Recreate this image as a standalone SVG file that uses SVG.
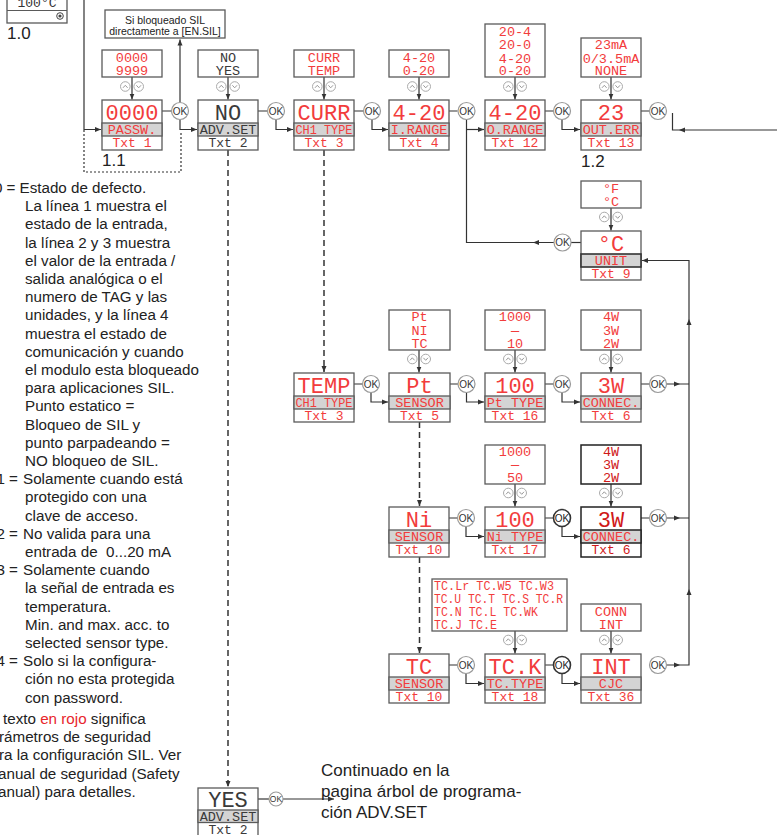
<svg xmlns="http://www.w3.org/2000/svg" xmlns:xlink="http://www.w3.org/1999/xlink" width="777" height="835" viewBox="0 0 777 835">
<style>
.box{fill:#fff;stroke:#5a5a5a;stroke-width:1.3}
.boxd{fill:#fff;stroke:#222;stroke-width:1.5}
.gry{fill:#d4d4d4;stroke:#5a5a5a;stroke-width:1.3}
.val{font-family:"Liberation Mono","DejaVu Sans Mono",monospace;font-size:22px;text-anchor:middle}
.lab{font-family:"Liberation Mono","DejaVu Sans Mono",monospace;font-size:13.5px;text-anchor:middle}
.txt{font-family:"Liberation Mono","DejaVu Sans Mono",monospace;font-size:13px;text-anchor:middle}
.opt{font-family:"Liberation Mono","DejaVu Sans Mono",monospace;font-size:13.5px;text-anchor:middle}
.red{fill:#f23c3c}
.dred{fill:#d01818}
.blk{fill:#3a3a3a}
.ln{fill:none;stroke:#333;stroke-width:1.2}
.dash{fill:none;stroke:#333;stroke-width:1.5;stroke-dasharray:6,4}
.dot{fill:none;stroke:#333;stroke-width:1.2;stroke-dasharray:2,2}
.body{font-family:"Liberation Sans",Arial,sans-serif;font-size:15.2px;fill:#222}
.note{font-family:"Liberation Sans",Arial,sans-serif;font-size:10.5px;fill:#222;text-anchor:middle}
.big{font-family:"Liberation Sans",Arial,sans-serif;font-size:17px;fill:#222}
</style>
<defs>
<marker id="a" markerWidth="7" markerHeight="6" refX="6" refY="3" orient="auto" markerUnits="userSpaceOnUse"><path d="M0,0.5 L6,3 L0,5.5z" fill="#333"/></marker>
<path id="mh" d="M0,0 L-6,-2.5 L-6,2.5z" fill="#333"/>
<g id="ok"><circle r="8.5" fill="#fff" stroke="#9a9a9a" stroke-width="1.2"/><text y="3.6" font-family="Liberation Sans,Arial,sans-serif" font-size="10" text-anchor="middle" fill="#333">OK</text></g>
<g id="okb"><circle r="8.5" fill="#fff" stroke="#333" stroke-width="1.6"/><text y="3.6" font-family="Liberation Sans,Arial,sans-serif" font-size="10" text-anchor="middle" fill="#222">OK</text></g>
<g id="oks"><circle r="7" fill="#fff" stroke="#9a9a9a" stroke-width="1.1"/><text y="3" font-family="Liberation Sans,Arial,sans-serif" font-size="8.5" text-anchor="middle" fill="#333">OK</text></g>
<g id="ud"><circle cx="-6.7" r="4.8" fill="#fff" stroke="#aaa" stroke-width="1"/><path d="M-9,1.3 l2.3,-2.5 l2.3,2.5" fill="none" stroke="#999" stroke-width="1"/><circle cx="6.7" r="4.8" fill="#fff" stroke="#aaa" stroke-width="1"/><path d="M4.4,-1.2 l2.3,2.5 l2.3,-2.5" fill="none" stroke="#999" stroke-width="1"/></g>
</defs>
<rect width="777" height="835" fill="#fff"/>

<!-- top-left partial display 1.0 -->
<g id="display-1-0">
<rect class="box" x="7" y="-30" width="60" height="53"/>
<line x1="7" y1="10.5" x2="67" y2="10.5" stroke="#5a5a5a" stroke-width="1.2"/>
<text x="37" y="6.5" font-family="Liberation Mono,monospace" font-size="13" text-anchor="middle" fill="#333">100°C</text>
<circle cx="60" cy="16" r="3.3" fill="none" stroke="#444" stroke-width="1"/><circle cx="60" cy="16" r="1.6" fill="#444"/>
<text class="big" x="7" y="39">1.0</text>
</g>

<g id="si-note">
<rect class="box" x="105" y="10" width="120" height="28"/>
<text class="note" x="165" y="23.5">Si bloqueado SIL</text>
<text class="note" x="165" y="34.5">directamente a [EN.SIL]</text>
</g>

<!-- connectors -->
<g id="connectors">
<path class="ln" d="M84,0 V129.5 H101" marker-end="url(#a)"/>
<path class="dot" d="M84,130 V172 H181 V131"/>
<path class="ln" d="M162,111 H171.5 M258,111 H267.5 M354,111 H363.5 M449,111 H457.5 M545,111 H553.5 M641,111 H649.5"/>
<path class="ln" d="M180,102.5 V39.5" marker-end="url(#a)"/>
<path class="ln" d="M180,119.5 V129.5 H197" marker-end="url(#a)"/>
<path class="ln" d="M276,119.5 V129.5 H293" marker-end="url(#a)"/>
<path class="ln" d="M372,119.5 V129.5 H388" marker-end="url(#a)"/>
<path class="ln" d="M466.5,119.5 V242.5 H554"/>
<path class="ln" d="M466.5,129.5 H484" marker-end="url(#a)"/>
<path class="ln" d="M562,119.5 V129.5 H580" marker-end="url(#a)"/>
<path class="ln" d="M672.5,113 V130 H777"/>
<use xlink:href="#mh" transform="translate(673,130) rotate(180) translate(-6,0)"/>
<use xlink:href="#mh" transform="translate(533,242.5) rotate(180)"/>
<path class="ln" d="M581,242.5 H571"/>
<!-- option arrows -->
<path class="ln" d="M132,77 V99.5" marker-end="url(#a)"/>
<path class="ln" d="M228,77 V99.5" marker-end="url(#a)"/>
<path class="ln" d="M324,77 V99.5" marker-end="url(#a)"/>
<path class="ln" d="M419,77 V99.5" marker-end="url(#a)"/>
<path class="ln" d="M515,77 V99.5" marker-end="url(#a)"/>
<path class="ln" d="M611,77 V99.5" marker-end="url(#a)"/>
<path class="ln" d="M611,208 V230.5" marker-end="url(#a)"/>
<path class="ln" d="M419,350 V372.5" marker-end="url(#a)"/>
<path class="ln" d="M515,350 V372.5" marker-end="url(#a)"/>
<path class="ln" d="M611,350 V372.5" marker-end="url(#a)"/>
<path class="ln" d="M515,484 V506.5" marker-end="url(#a)"/>
<path class="ln" d="M611,484 V506.5" marker-end="url(#a)"/>
<path class="ln" d="M515,631 V653.5" marker-end="url(#a)"/>
<path class="ln" d="M611,631 V653.5" marker-end="url(#a)"/>
<!-- dashed -->
<path class="dash" d="M228,150 V787" marker-end="url(#a)"/>
<path class="dash" d="M324,150 V372" marker-end="url(#a)"/>
<path class="dash" d="M419.5,422 V506" marker-end="url(#a)"/>
<path class="dash" d="M419.5,557 V653" marker-end="url(#a)"/>
<!-- temp row -->
<path class="ln" d="M354,384 H362.5 M450,384 H458 M545,384 H553.5 M641,384 H649.5 M666.5,384 H689"/>
<path class="ln" d="M371,392.5 V402 H388" marker-end="url(#a)"/>
<path class="ln" d="M466.5,392.5 V402 H484" marker-end="url(#a)"/>
<path class="ln" d="M562,392.5 V402 H580" marker-end="url(#a)"/>
<!-- Ni row -->
<path class="ln" d="M449,518 H457.5 M545,518 H553.5 M641,518 H649.5 M666.5,518 H689"/>
<path class="ln" d="M466,526.5 V536.5 H484" marker-end="url(#a)"/>
<path class="ln" d="M562,526.5 V536.5 H580" stroke-width="1.6" marker-end="url(#a)"/>
<!-- TC row -->
<path class="ln" d="M449,665 H457.5 M545,665 H553.5"/>
<path class="ln" d="M466,673.5 V683.5 H484" marker-end="url(#a)"/>
<path class="ln" d="M562,673.5 V683.5 H580" stroke-width="1.6" marker-end="url(#a)"/>
<path class="ln" d="M666.5,665 H689 V260.5 H642" marker-end="url(#a)"/>
<use xlink:href="#mh" transform="translate(689,319) rotate(-90)"/>
<use xlink:href="#mh" transform="translate(689,589) rotate(-90)"/>
<use xlink:href="#mh" transform="translate(680,384)"/>
<use xlink:href="#mh" transform="translate(680,518)"/>
<use xlink:href="#mh" transform="translate(680,665)"/>
<!-- YES -->
<path class="ln" d="M258,799 H269"/>
<path class="ln" d="M283,799 H334" marker-end="url(#a)"/>
<!-- OK buttons -->
<use xlink:href="#ok" x="180" y="111"/>
<use xlink:href="#ok" x="276" y="111"/>
<use xlink:href="#ok" x="372" y="111"/>
<use xlink:href="#ok" x="466.5" y="111"/>
<use xlink:href="#ok" x="562" y="111"/>
<use xlink:href="#ok" x="658" y="111"/>
<use xlink:href="#ok" x="562.5" y="242.5"/>
<use xlink:href="#ok" x="371" y="384"/>
<use xlink:href="#ok" x="466.5" y="384"/>
<use xlink:href="#ok" x="562" y="384"/>
<use xlink:href="#ok" x="658" y="384"/>
<use xlink:href="#ok" x="466" y="518"/>
<use xlink:href="#okb" x="562" y="518"/>
<use xlink:href="#ok" x="658" y="518"/>
<use xlink:href="#ok" x="466" y="665"/>
<use xlink:href="#okb" x="562" y="665"/>
<use xlink:href="#ok" x="658" y="665"/>
<use xlink:href="#oks" x="276" y="799"/>
<!-- up/down icons -->
<use xlink:href="#ud" x="132" y="86.5"/>
<use xlink:href="#ud" x="228" y="86.5"/>
<use xlink:href="#ud" x="324" y="86.5"/>
<use xlink:href="#ud" x="419" y="86.5"/>
<use xlink:href="#ud" x="515" y="86.5"/>
<use xlink:href="#ud" x="611" y="86.5"/>
<use xlink:href="#ud" x="611" y="217"/>
<use xlink:href="#ud" x="419" y="359"/>
<use xlink:href="#ud" x="515" y="359"/>
<use xlink:href="#ud" x="611" y="359"/>
<use xlink:href="#ud" x="515" y="493"/>
<use xlink:href="#ud" x="611" y="493"/>
<use xlink:href="#ud" x="515" y="640"/>
<use xlink:href="#ud" x="611" y="640"/>
</g>

<!-- option boxes -->
<g id="opt-passw"><rect class="box" x="102" y="50" width="60" height="27"/><text class="opt red" x="132" y="61.5">0000</text><text class="opt red" x="132" y="75">9999</text></g>
<g id="opt-advset"><rect class="box" x="198" y="50" width="60" height="27"/><text class="opt blk" x="228" y="61.5">NO</text><text class="opt blk" x="228" y="75">YES</text></g>
<g id="opt-ch1type"><rect class="box" x="294" y="50" width="60" height="27"/><text class="opt red" x="324" y="61.5">CURR</text><text class="opt red" x="324" y="75">TEMP</text></g>
<g id="opt-irange"><rect class="box" x="389" y="50" width="60" height="27"/><text class="opt red" x="419" y="61.5">4-20</text><text class="opt red" x="419" y="75">0-20</text></g>
<g id="opt-orange"><rect class="box" x="485" y="24" width="60" height="53"/><text class="opt red" x="515" y="36">20-4</text><text class="opt red" x="515" y="49.3">20-0</text><text class="opt red" x="515" y="62.6">4-20</text><text class="opt red" x="515" y="75">0-20</text></g>
<g id="opt-outerr"><rect class="box" x="581" y="38" width="60" height="39"/><text class="opt red" x="611" y="48.5">23mA</text><text class="opt red" x="611" y="62.6">0/3.5mA</text><text class="opt red" x="611" y="75">NONE</text></g>
<g id="opt-unit"><rect class="box" x="581" y="181" width="60" height="27"/><text class="opt red" x="611" y="192.5">°F</text><text class="opt red" x="611" y="206">°C</text></g>
<g id="opt-sensor"><rect class="box" x="389" y="310" width="61" height="40"/><text class="opt red" x="419.5" y="321">Pt</text><text class="opt red" x="419.5" y="334.5">NI</text><text class="opt red" x="419.5" y="348">TC</text></g>
<g id="opt-pttype"><rect class="box" x="485" y="310" width="60" height="40"/><text class="opt red" x="515" y="321">1000</text><text class="opt red" x="515" y="334.5">—</text><text class="opt red" x="515" y="348">10</text></g>
<g id="opt-connec"><rect class="box" x="581" y="310" width="60" height="40"/><text class="opt red" x="611" y="321">4W</text><text class="opt red" x="611" y="334.5">3W</text><text class="opt red" x="611" y="348">2W</text></g>
<g id="opt-nitype"><rect class="box" x="485" y="445" width="60" height="39"/><text class="opt red" x="515" y="455.5">1000</text><text class="opt red" x="515" y="469">—</text><text class="opt red" x="515" y="482">50</text></g>
<g id="opt-connec2"><rect class="boxd" x="581" y="445" width="60" height="39"/><text class="opt dred" x="611" y="455.5">4W</text><text class="opt dred" x="611" y="469">3W</text><text class="opt dred" x="611" y="482">2W</text></g>
<g id="opt-tctype"><rect class="box" x="432" y="579" width="135" height="52"/>
<text class="opt red" x="434" y="590" style="text-anchor:start" textLength="120" lengthAdjust="spacingAndGlyphs">TC.Lr TC.W5 TC.W3</text>
<text class="opt red" x="434" y="603" style="text-anchor:start" textLength="129" lengthAdjust="spacingAndGlyphs">TC.U TC.T TC.S TC.R</text>
<text class="opt red" x="434" y="616" style="text-anchor:start" textLength="104" lengthAdjust="spacingAndGlyphs">TC.N TC.L TC.WK</text>
<text class="opt red" x="434" y="629" style="text-anchor:start" textLength="63" lengthAdjust="spacingAndGlyphs">TC.J TC.E</text></g>
<g id="opt-cjc"><rect class="box" x="581" y="604" width="60" height="27"/><text class="opt red" x="611" y="615.5">CONN</text><text class="opt red" x="611" y="629">INT</text></g>

<!-- nodes -->
<g id="n-passw"><rect class="box" x="102" y="100" width="60" height="50"/><rect class="gry" x="102" y="123" width="60" height="13"/><text class="val red" x="132" y="119.5">0000</text><text class="lab red" x="132" y="133.8">PASSW.</text><text class="txt red" x="132" y="147.3">Txt 1</text></g>
<text class="big" x="102" y="166">1.1</text>
<g id="n-advset"><rect class="box" x="198" y="100" width="60" height="50"/><rect class="gry" x="198" y="123" width="60" height="13"/><text class="val blk" x="228" y="119.5">NO</text><text class="lab blk" x="228" y="133.8">ADV.SET</text><text class="txt blk" x="228" y="147.3">Txt 2</text></g>
<g id="n-ch1type"><rect class="box" x="294" y="100" width="60" height="50"/><rect class="gry" x="294" y="123" width="60" height="13"/><text class="val red" x="324" y="119.5">CURR</text><text class="lab red" x="324" y="133.8" textLength="57" lengthAdjust="spacingAndGlyphs">CH1 TYPE</text><text class="txt red" x="324" y="147.3">Txt 3</text></g>
<g id="n-irange"><rect class="box" x="389" y="100" width="60" height="50"/><rect class="gry" x="389" y="123" width="60" height="13"/><text class="val red" x="419" y="119.5">4-20</text><text class="lab red" x="419" y="133.8">I.RANGE</text><text class="txt red" x="419" y="147.3">Txt 4</text></g>
<g id="n-orange"><rect class="box" x="485" y="100" width="60" height="50"/><rect class="gry" x="485" y="123" width="60" height="13"/><text class="val red" x="515" y="119.5">4-20</text><text class="lab red" x="515" y="133.8">O.RANGE</text><text class="txt red" x="515" y="147.3">Txt 12</text></g>
<g id="n-outerr"><rect class="box" x="581" y="100" width="60" height="50"/><rect class="gry" x="581" y="123" width="60" height="13"/><text class="val red" x="611" y="119.5">23</text><text class="lab red" x="611" y="133.8">OUT.ERR</text><text class="txt red" x="611" y="147.3">Txt 13</text></g>
<text class="big" x="581" y="167">1.2</text>
<g id="n-unit"><rect class="box" x="581" y="231" width="60" height="49"/><rect class="gry" x="581" y="254" width="60" height="13" style="stroke:#333;stroke-width:1.6"/><text class="val red" x="611" y="250.5">°C</text><text class="lab red" x="611" y="264.8">UNIT</text><text class="txt red" x="611" y="277.8">Txt 9</text></g>

<g id="n-temp"><rect class="box" x="294" y="373" width="60" height="49"/><rect class="gry" x="294" y="396" width="60" height="13"/><text class="val red" x="324" y="392.5">TEMP</text><text class="lab red" x="324" y="406.8" textLength="57" lengthAdjust="spacingAndGlyphs">CH1 TYPE</text><text class="txt red" x="324" y="419.8">Txt 3</text></g>
<g id="n-sensor-pt"><rect class="box" x="389" y="373" width="61" height="49"/><rect class="gry" x="389" y="396" width="61" height="13"/><text class="val red" x="419.5" y="392.5">Pt</text><text class="lab red" x="419.5" y="406.8">SENSOR</text><text class="txt red" x="419.5" y="419.8">Txt 5</text></g>
<g id="n-pttype"><rect class="box" x="485" y="373" width="60" height="49"/><rect class="gry" x="485" y="396" width="60" height="13"/><text class="val red" x="515" y="392.5">100</text><text class="lab red" x="515" y="406.8">Pt TYPE</text><text class="txt red" x="515" y="419.8">Txt 16</text></g>
<g id="n-connec"><rect class="box" x="581" y="373" width="60" height="49"/><rect class="gry" x="581" y="396" width="60" height="13"/><text class="val red" x="611" y="392.5">3W</text><text class="lab red" x="611" y="406.8">CONNEC.</text><text class="txt red" x="611" y="419.8">Txt 6</text></g>

<g id="n-sensor-ni"><rect class="box" x="389" y="507" width="60" height="50"/><rect class="gry" x="389" y="530" width="60" height="13"/><text class="val red" x="419" y="526.5">Ni</text><text class="lab red" x="419" y="540.8">SENSOR</text><text class="txt red" x="419" y="554.3">Txt 10</text></g>
<g id="n-nitype"><rect class="box" x="485" y="507" width="60" height="50"/><rect class="gry" x="485" y="530" width="60" height="13"/><text class="val red" x="515" y="526.5">100</text><text class="lab red" x="515" y="540.8">Ni TYPE</text><text class="txt red" x="515" y="554.3">Txt 17</text></g>
<g id="n-connec-ni"><rect class="boxd" x="581" y="507" width="60" height="50"/><rect class="gry" x="581" y="530" width="60" height="13" style="stroke:#222;stroke-width:1.5"/><text class="val dred" x="611" y="526.5">3W</text><text class="lab red" x="611" y="540.8">CONNEC.</text><text class="txt dred" x="611" y="554.3">Txt 6</text></g>

<g id="n-sensor-tc"><rect class="box" x="389" y="654" width="60" height="49"/><rect class="gry" x="389" y="677" width="60" height="13"/><text class="val red" x="419" y="673.5">TC</text><text class="lab red" x="419" y="687.8">SENSOR</text><text class="txt red" x="419" y="700.8">Txt 10</text></g>
<g id="n-tctype"><rect class="box" x="485" y="654" width="60" height="49"/><rect class="gry" x="485" y="677" width="60" height="13"/><text class="val red" x="515" y="673.5">TC.K</text><text class="lab red" x="515" y="687.8">TC.TYPE</text><text class="txt red" x="515" y="700.8">Txt 18</text></g>
<g id="n-cjc"><rect class="box" x="581" y="654" width="60" height="49"/><rect class="gry" x="581" y="677" width="60" height="13"/><text class="val red" x="611" y="673.5">INT</text><text class="lab red" x="611" y="687.8">CJC</text><text class="txt red" x="611" y="700.8">Txt 36</text></g>

<g id="n-yes"><rect class="box" x="198" y="788" width="60" height="50"/><rect class="gry" x="198" y="810" width="60" height="12.5"/><text class="val blk" x="228" y="807">YES</text><text class="lab blk" x="228" y="820.5">ADV.SET</text><text class="txt blk" x="228" y="834">Txt 2</text></g>

<g id="continued">
<text class="big" x="321" y="776">Continuado en la</text>
<text class="big" x="321" y="797">pagina árbol de programa-</text>
<text class="big" x="321" y="818">ción ADV.SET</text>
</g>

<!-- legend text -->
<g id="legend">
<text class="body" x="15.5" y="193" text-anchor="end">0 =</text><text class="body" x="19.5" y="193">Estado de defecto.</text>
<text class="body" x="25" y="211.2">La línea 1 muestra el</text>
<text class="body" x="25" y="229.4">estado de la entrada,</text>
<text class="body" x="25" y="247.6">la línea 2 y 3 muestra</text>
<text class="body" x="25" y="265.8">el valor de la entrada /</text>
<text class="body" x="25" y="284">salida analógica o el</text>
<text class="body" x="25" y="302.2">numero de TAG y las</text>
<text class="body" x="25" y="320.4">unidades, y la línea 4</text>
<text class="body" x="25" y="338.6">muestra el estado de</text>
<text class="body" x="25" y="356.8">comunicación y cuando</text>
<text class="body" x="25" y="375">el modulo esta bloqueado</text>
<text class="body" x="25" y="393.2">para aplicaciones SIL.</text>
<text class="body" x="25" y="411.4">Punto estatico =</text>
<text class="body" x="25" y="429.6">Bloqueo de SIL y</text>
<text class="body" x="25" y="447.8">punto parpadeando =</text>
<text class="body" x="25" y="466">NO bloqueo de SIL.</text>
<text class="body" x="18" y="484.2" text-anchor="end">1 =</text><text class="body" x="23" y="484.2">Solamente cuando está</text>
<text class="body" x="25" y="502.4">protegido con una</text>
<text class="body" x="25" y="520.6">clave de acceso.</text>
<text class="body" x="18" y="538.8" text-anchor="end">2 =</text><text class="body" x="23" y="538.8">No valida para una</text>
<text class="body" x="25" y="557" xml:space="preserve">entrada de  0...20 mA</text>
<text class="body" x="18" y="575.2" text-anchor="end">3 =</text><text class="body" x="23" y="575.2">Solamente cuando</text>
<text class="body" x="25" y="593.4">la señal de entrada es</text>
<text class="body" x="25" y="611.6">temperatura.</text>
<text class="body" x="25" y="629.8">Min. and max. acc. to</text>
<text class="body" x="25" y="648">selected sensor type.</text>
<text class="body" x="18" y="666.2" text-anchor="end">4 =</text><text class="body" x="23" y="666.2">Solo si la configura-</text>
<text class="body" x="25" y="684.4">ción no esta protegida</text>
<text class="body" x="25" y="702.6">con password.</text>
<text class="body" x="3" y="724">texto <tspan fill="#e8262c">en rojo</tspan> significa</text>
<text class="body" x="-1" y="742.2">rámetros de seguridad</text>
<text class="body" x="-1" y="760.4">ra la configuración SIL. Ver</text>
<text class="body" x="-2" y="778.6">anual de seguridad (Safety</text>
<text class="body" x="-2" y="796.8">anual) para detalles.</text>
</g>
</svg>
